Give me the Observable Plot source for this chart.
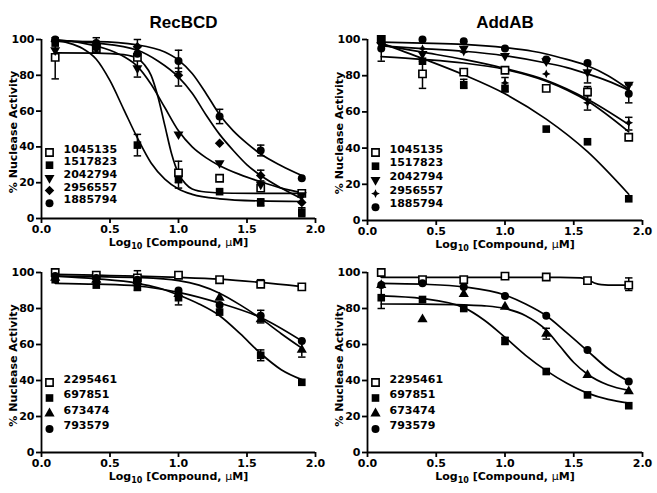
<!DOCTYPE html>
<html><head><meta charset="utf-8">
<script src="https://cdn.jsdelivr.net/npm/d3@7"></script>
<script src="https://cdn.jsdelivr.net/npm/@observablehq/plot@0.6"></script>
<style>
body{margin:0;background:#fff;}
#chart{position:relative;width:657px;height:493px;background:#fff;overflow:hidden;}
.panel{position:absolute;}
.panel svg{background:none !important;overflow:visible;}
</style></head><body><div id="chart"></div>
<script>
// ---------- data ----------
const doses = [0.1, 0.4, 0.7, 1.0, 1.3, 1.6, 1.9];
const xTicks = [0, 0.5, 1, 1.5, 2];
const yTicks = [0, 20, 40, 60, 80, 100];
const titles = ["RecBCD", "AddAB"];
const xLabel = "Log10 [Compound, μM]";
const yLabel = "% Nuclease Activity";
const topCompounds = ["1045135", "1517823", "2042794", "2956557", "1885794"];
const bottomCompounds = ["2295461", "697851", "673474", "793579"];

// RecBCD, top compounds: measured points (at doses)
const rec1045135 = [90, 95, 90, 25.5, 22.5, 17, 14];
const rec1517823 = [98, 96, 41, 22, 15, 9, 3.5];
const rec2042794 = [94, 95, 84, 47, 31, 19, 13];
const rec2956557 = [99, 97, 96, 80, 42, 24, 9];
const rec1885794 = [100, 98, 92, 88, 57, 38, 22.5];
// RecBCD, top compounds: fitted curves
const recFit1045135 = [[0.1,92.5],[0.4,92.4],[0.6,91.5],[0.7,89.5],[0.75,86],[0.8,80],[0.85,68],[0.9,52],[0.95,36],[1.0,25],[1.05,19.5],[1.1,16.5],[1.2,14.8],[1.4,14.1],[1.9,14]];
const recFit1517823 = [[0.1,99.5],[0.2,98],[0.3,95],[0.4,89],[0.5,77],[0.6,61],[0.7,45],[0.8,31],[0.9,22],[1.0,16.5],[1.1,13.5],[1.3,11],[1.6,9.8],[1.9,9.5]];
const recFit2042794 = [[0.1,100],[0.3,98],[0.5,94],[0.6,90.5],[0.7,85],[0.8,75],[0.9,62],[1.0,49],[1.1,40],[1.2,34],[1.3,29.5],[1.45,24.5],[1.6,20.5],[1.75,17],[1.9,14.5]];
const recFit2956557 = [[0.1,99.5],[0.4,98],[0.7,94],[0.85,88],[1.0,79],[1.1,70],[1.2,58],[1.3,47],[1.4,38],[1.5,30],[1.6,24],[1.75,17],[1.9,11]];
const recFit1885794 = [[0.1,99],[0.4,98.8],[0.7,97],[0.9,93],[1.0,88.5],[1.1,81],[1.2,70],[1.3,58],[1.4,49],[1.5,42],[1.6,36],[1.75,29.5],[1.9,24]];
// RecBCD, top compounds: error bars [compound, dose, low, high]
const recErr = [["1045135",0.1,78,101],["1045135",1.0,20,32],["1517823",0.7,35,47],["1517823",1.0,17,26],["1517823",1.6,7,11],["1517823",1.9,1,6],["2042794",0.7,79,89],["2956557",0.7,92,100],["2956557",1.0,74,84],["2956557",1.6,21,27],["1885794",0.4,95,101],["1885794",1.0,82,94],["1885794",1.3,53,61],["1885794",1.6,35,41]];

// AddAB, top compounds
const add1045135 = [100, 81, 82, 83, 73, 71, 46];
const add1517823 = [100, 88, 75, 73, 50.5, 43.5, 12];
const add2042794 = [97, 92, 95, 91, 88, 82, 75];
const add2956557 = [98, 95, 93, 76, 81, 65, 54];
const add1885794 = [95, 100, 99, 95, 89, 87, 70];
const addFit1045135 = [[0.1,90.5],[0.4,89],[0.7,87],[1.0,83.5],[1.3,77],[1.6,66],[1.9,49]];
const addFit1517823 = [[0.1,98],[0.4,89.5],[0.7,80.5],[1.0,70],[1.3,56],[1.6,38],[1.9,14.5]];
const addFit2042794 = [[0.1,96.5],[0.4,95],[0.7,93.5],[1.0,91],[1.3,87],[1.45,84.5],[1.6,81],[1.75,77],[1.9,72]];
const addFit2956557 = [[0.1,97],[0.4,93],[0.7,89],[1.0,84],[1.3,77.5],[1.6,67],[1.9,53]];
const addFit1885794 = [[0.1,98.5],[0.4,98],[0.7,97.3],[1.0,95.5],[1.2,93.5],[1.3,92],[1.45,89],[1.6,85.5],[1.75,80],[1.9,72.5]];
const addErr = [["1045135",0.4,73,88],["1045135",1.6,67,74],["1517823",0.7,73,78],["2956557",0.1,88,98],["2956557",1.0,71,79],["2956557",1.6,61,69],["2956557",1.9,50,57],["2042794",1.6,76,86],["1885794",1.9,65,75]];

// RecBCD, bottom compounds
const rec2295461 = [100, 98.5, 97, 98.5, 96, 93.5, 92];
const rec697851 = [96, 93, 92, 86, 78, 54, 39];
const rec673474 = [97, 96, 95, 88, 86, 74, 57];
const rec793579 = [98, 97, 96, 90, 82, 76, 62];
const recFit2295461 = [[0.1,99],[0.4,98.5],[0.7,98],[1.0,97.3],[1.3,96.3],[1.6,94.5],[1.9,92.2]];
const recFit697851 = [[0.1,98],[0.4,96.5],[0.7,94],[0.85,91.5],[1.0,87.5],[1.15,82.5],[1.3,76],[1.45,66],[1.6,55],[1.75,46],[1.9,40.5]];
const recFit673474 = [[0.1,98],[0.4,97.7],[0.7,97.2],[1.0,95.5],[1.15,93],[1.3,88.5],[1.45,82],[1.6,74.5],[1.75,66],[1.9,58]];
const recFit793579 = [[0.1,94],[0.4,93.5],[0.7,92.5],[1.0,89],[1.3,83],[1.6,75],[1.9,62]];
const recErr2 = [["697851",1.0,82,89],["697851",1.6,51,57],["673474",1.6,72,79],["673474",1.9,53,62],["793579",0.7,90,101],["2295461",1.6,92,96]];

// AddAB, bottom compounds
const add2295461 = [100, 96, 96, 98, 97.5, 95.5, 93];
const add697851 = [86, 85, 80, 62, 45, 32, 26];
const add673474 = [93, 74, 88, 81, 66, 43, 34];
const add793579 = [93, 94, 92, 87, 76, 57, 39.5];
const addFit2295461 = [[0.1,97.3],[0.5,97.3],[1.0,97.3],[1.4,97.3],[1.55,97],[1.6,96],[1.65,94.2],[1.7,93.3],[1.8,93],[1.9,93]];
const addFit697851 = [[0.1,87],[0.4,85.5],[0.7,80.5],[0.85,73.5],[1.0,64],[1.15,54],[1.3,45.5],[1.45,38.5],[1.6,33],[1.75,29.5],[1.9,27.5]];
const addFit673474 = [[0.1,82.5],[0.4,82.4],[0.7,82],[0.85,81.5],[1.0,80],[1.15,76],[1.3,68],[1.4,59],[1.5,50],[1.6,43.5],[1.75,37.5],[1.9,34.5]];
const addFit793579 = [[0.1,94],[0.4,93.5],[0.7,92],[1.0,87.5],[1.15,82.5],[1.3,76],[1.45,66.5],[1.6,56.5],[1.75,46.5],[1.9,39.5]];
const addErr2 = [["697851",0.1,80,92],["697851",1.0,60,64],["673474",1.3,63,69],["2295461",1.9,90,97]];

// ---------- symbols ----------
const triDown = {draw(ctx, size) {
  const y = -Math.sqrt(size / (Math.sqrt(3) * 3));
  ctx.moveTo(0, -y * 2); ctx.lineTo(-Math.sqrt(3) * y, y); ctx.lineTo(Math.sqrt(3) * y, y); ctx.closePath();
}};
const star4 = {draw(ctx, size) {
  const R = Math.sqrt(size / Math.PI) * 1.15, ri = R * 0.45;
  for (let k = 0; k < 8; k++) {
    const a = k * Math.PI / 4 - Math.PI / 2, rr = k % 2 ? ri : R;
    k ? ctx.lineTo(rr * Math.cos(a), rr * Math.sin(a)) : ctx.moveTo(rr * Math.cos(a), rr * Math.sin(a));
  }
  ctx.closePath();
}};
const capSym = {draw(ctx, size) {
  const w = Math.sqrt(size) / 2;
  ctx.moveTo(-w, 0); ctx.lineTo(w, 0);
}};
const STY = {
  openSquare: {symbol: "square", r: 4.1, fill: "white", stroke: "black", strokeWidth: 1.6},
  square: {symbol: "square", r: 4.3, fill: "black", stroke: "none"},
  triDown: {symbol: triDown, r: 3.7, fill: "black", stroke: "none"},
  diamond: {symbol: "diamond2", r: 4.3, fill: "black", stroke: "none"},
  star: {symbol: star4, r: 3.8, fill: "black", stroke: "none"},
  circle: {symbol: "circle", r: 4, fill: "black", stroke: "none"},
  triangle: {symbol: "triangle", r: 3.8, fill: "black", stroke: "none"}
};

const FONT = "'DejaVu Sans', Verdana, sans-serif";
const TITLE_FONT = "'Liberation Sans', Arial, Helvetica, sans-serif";
const FS = 11;

function makePanel(cfg) {
  const {left, top, width, height, mt, mb, ml, mr, title, series, errors, legendDy, titleDx} = cfg;
  const marks = [];
  const errRows = errors.map(([name, x, lo, hi]) => ({name, x, lo, hi}));
  marks.push(Plot.ruleX(errRows, {x: "x", y1: "lo", y2: "hi", stroke: "black", strokeWidth: 1.5}));
  marks.push(Plot.dot(errRows, {x: "x", y: "lo", symbol: capSym, r: 4.2, stroke: "black", strokeWidth: 1.5}));
  marks.push(Plot.dot(errRows, {x: "x", y: "hi", symbol: capSym, r: 4.2, stroke: "black", strokeWidth: 1.5}));
  for (const s of series) {
    marks.push(Plot.line(s.fit, {x: d => d[0], y: d => d[1], curve: "monotone-x", stroke: "black", strokeWidth: 1.7}));
  }
  for (const s of series) {
    const pts = s.pts.map((v, i) => ({x: doses[i], y: v}));
    marks.push(Plot.dot(pts, {x: "x", y: "y", ...STY[s.sym]}));
  }
  series.forEach((s, i) => {
    marks.push(Plot.dot([s.name], {frameAnchor: "bottom-left", dx: 8, dy: legendDy[i], ...STY[s.sym]}));
    marks.push(Plot.text([s.name], {frameAnchor: "bottom-left", textAnchor: "start", dx: 22, dy: legendDy[i], fontSize: FS, fontWeight: "bold", fill: "black"}));
  });
  marks.push(Plot.ruleX([0], {stroke: "black", strokeWidth: 1.8}));
  marks.push(Plot.ruleY([0], {stroke: "black", strokeWidth: 1.8}));
  marks.push(Plot.axisY({ticks: yTicks, tickSize: 5, tickPadding: 2, label: null, fontSize: FS, fontWeight: "bold", strokeWidth: 1.8, stroke: "black", fill: "black"}));
  marks.push(Plot.axisX({ticks: xTicks, tickSize: 5, tickPadding: 2, label: null, tickFormat: d3.format(".1f"), fontSize: FS, fontWeight: "bold", strokeWidth: 1.8, stroke: "black", fill: "black"}));
  marks.push(Plot.text([yLabel], {frameAnchor: "left", textAnchor: "middle", rotate: -90, dx: -28, dy: 3, fontSize: FS, fontWeight: "bold", fill: "black"}));
  marks.push(Plot.text([xLabel], {frameAnchor: "bottom", textAnchor: "middle", dy: 27, fontSize: FS, fontWeight: "bold", fill: "black"}));
  if (title) marks.push(Plot.text([title], {frameAnchor: "top", textAnchor: "middle", dy: -24, dx: titleDx, fontSize: 17, fontWeight: "bold", fill: "black", fontFamily: TITLE_FONT}));

  const svg = Plot.plot({
    width, height, marginTop: mt, marginBottom: mb, marginLeft: ml, marginRight: mr,
    x: {domain: [0, 2]},
    y: {domain: [0, 100]},
    style: {fontFamily: FONT, color: "black", background: "none", overflow: "visible"},
    marks
  });
  d3.select(svg).selectAll("text").filter(function() { return this.textContent === xLabel; }).each(function() {
    const t = d3.select(this);
    t.text(null);
    t.append("tspan").text("Log");
    t.append("tspan").attr("font-size", "8px").attr("dy", "3").text("10");
    t.append("tspan").attr("dy", "-3").text(" [Compound, ");
    t.append("tspan").attr("font-weight", "normal").text("μ");
    t.append("tspan").text("M]");
  });
  const div = document.createElement("div");
  div.className = "panel";
  div.style.left = left + "px";
  div.style.top = top + "px";
  div.appendChild(svg);
  document.getElementById("chart").appendChild(div);
}

const topSyms = ["openSquare", "square", "triDown", "diamond", "circle"];
const topSyms2 = ["openSquare", "square", "triDown", "star", "circle"];
const botSyms = ["openSquare", "square", "triangle", "circle"];

makePanel({left: 0, top: 0, width: 328, height: 252, mt: 39, mb: 34, ml: 41, mr: 13, title: titles[0], titleDx: 5,
  series: [
    {name: topCompounds[0], pts: rec1045135, fit: recFit1045135, sym: topSyms[0]},
    {name: topCompounds[1], pts: rec1517823, fit: recFit1517823, sym: topSyms[1]},
    {name: topCompounds[2], pts: rec2042794, fit: recFit2042794, sym: topSyms[2]},
    {name: topCompounds[3], pts: rec2956557, fit: recFit2956557, sym: topSyms[3]},
    {name: topCompounds[4], pts: rec1885794, fit: recFit1885794, sym: topSyms[4]}
  ], errors: recErr, legendDy: [-66, -53.3, -40.6, -27.9, -15.2]});

makePanel({left: 326, top: 0, width: 331, height: 252, mt: 39, mb: 32, ml: 41, mr: 15, title: titles[1], titleDx: 0,
  series: [
    {name: topCompounds[0], pts: add1045135, fit: addFit1045135, sym: topSyms2[0]},
    {name: topCompounds[1], pts: add1517823, fit: addFit1517823, sym: topSyms2[1]},
    {name: topCompounds[2], pts: add2042794, fit: addFit2042794, sym: topSyms2[2]},
    {name: topCompounds[3], pts: add2956557, fit: addFit2956557, sym: topSyms2[3]},
    {name: topCompounds[4], pts: add1885794, fit: addFit1885794, sym: topSyms2[4]}
  ], errors: addErr, legendDy: [-68, -54.3, -40.6, -26.9, -13.2]});

makePanel({left: 0, top: 252, width: 328, height: 241, mt: 20, mb: 41, ml: 41, mr: 13, title: null,
  series: [
    {name: bottomCompounds[0], pts: rec2295461, fit: recFit2295461, sym: botSyms[0]},
    {name: bottomCompounds[1], pts: rec697851, fit: recFit697851, sym: botSyms[1]},
    {name: bottomCompounds[2], pts: rec673474, fit: recFit673474, sym: botSyms[2]},
    {name: bottomCompounds[3], pts: rec793579, fit: recFit793579, sym: botSyms[3]}
  ], errors: recErr2, legendDy: [-70, -54.5, -39, -23.5]});

makePanel({left: 326, top: 252, width: 331, height: 241, mt: 20, mb: 41, ml: 41, mr: 15, title: null,
  series: [
    {name: bottomCompounds[0], pts: add2295461, fit: addFit2295461, sym: botSyms[0]},
    {name: bottomCompounds[1], pts: add697851, fit: addFit697851, sym: botSyms[1]},
    {name: bottomCompounds[2], pts: add673474, fit: addFit673474, sym: botSyms[2]},
    {name: bottomCompounds[3], pts: add793579, fit: addFit793579, sym: botSyms[3]}
  ], errors: addErr2, legendDy: [-70, -54.5, -39, -23.5]});
</script></body></html>
